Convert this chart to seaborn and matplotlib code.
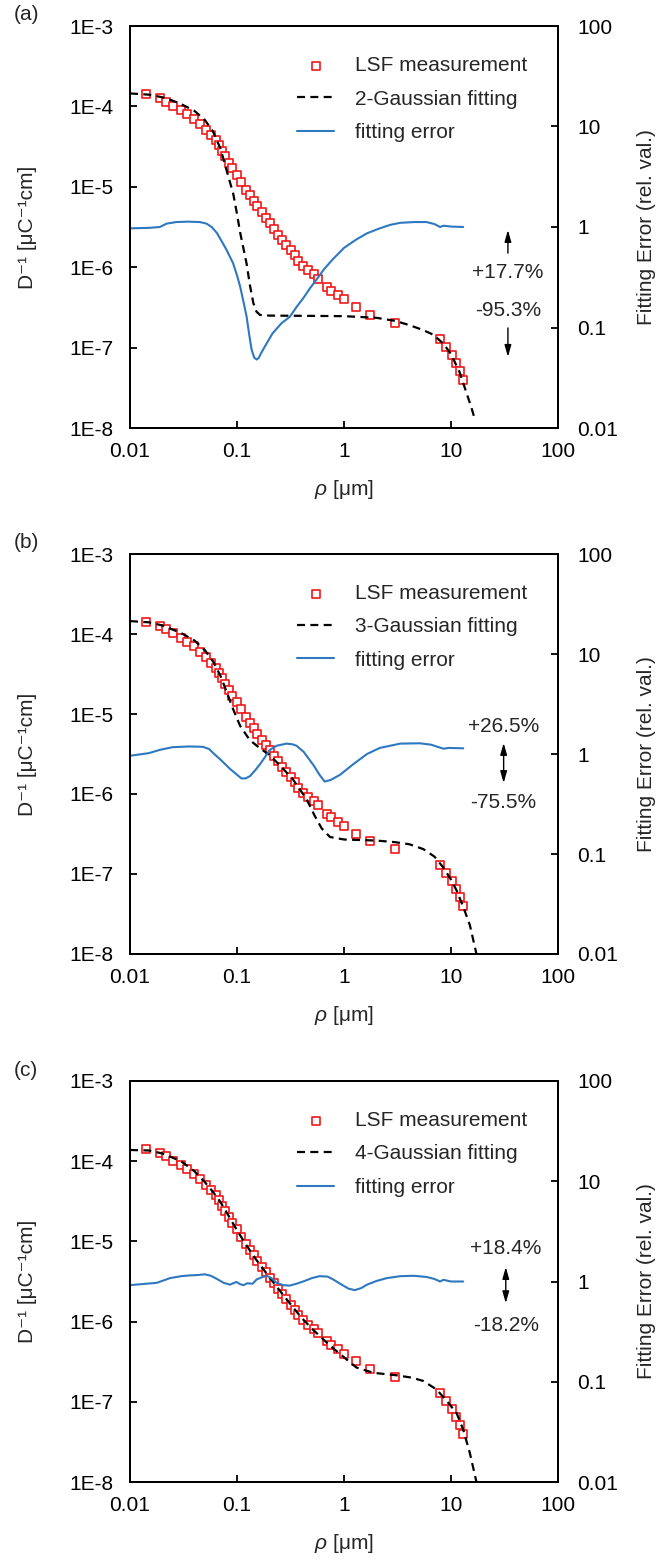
import matplotlib
matplotlib.use("Agg")
import matplotlib.pyplot as plt
import seaborn as sns

# ---- LSF measurement (same data set in every panel) ----
rho_meas = [0.0141, 0.0190, 0.0218, 0.0254, 0.0298, 0.0343, 0.0396, 0.0455, 0.0515,
            0.0575, 0.0630, 0.0680, 0.0730, 0.0780, 0.0835, 0.0895, 0.0990, 0.110,
            0.121, 0.132, 0.143, 0.155, 0.170, 0.187, 0.204, 0.222, 0.243, 0.266,
            0.290, 0.318, 0.345, 0.375, 0.415, 0.465, 0.520, 0.575, 0.700, 0.760,
            0.880, 1.00, 1.30, 1.75, 3.00, 7.9, 9.0, 10.2, 11.1, 12.1, 13.0]
dose_meas = [1.42e-4, 1.26e-4, 1.15e-4, 1.02e-4, 9.0e-5, 8.0e-5, 7.0e-5, 6.0e-5, 5.1e-5,
             4.4e-5, 3.8e-5, 3.3e-5, 2.8e-5, 2.4e-5, 2.0e-5, 1.7e-5, 1.42e-5, 1.14e-5,
             9.2e-6, 7.8e-6, 6.7e-6, 5.7e-6, 4.8e-6, 4.1e-6, 3.5e-6, 3.0e-6, 2.55e-6, 2.2e-6,
             1.9e-6, 1.62e-6, 1.40e-6, 1.20e-6, 1.04e-6, 9.2e-7, 8.2e-7, 7.2e-7, 5.7e-7, 5.1e-7,
             4.5e-7, 4.0e-7, 3.2e-7, 2.55e-7, 2.04e-7, 1.29e-7, 1.03e-7, 8.2e-8, 6.5e-8, 5.1e-8, 4.0e-8]

# ---- 2-Gaussian fit ----
fit2_rho = [0.010, 0.015, 0.020, 0.025, 0.030, 0.040, 0.050, 0.060, 0.070, 0.080, 0.092,
            0.100, 0.107, 0.115, 0.123, 0.132, 0.142, 0.152, 0.164, 0.200, 0.50, 1.0, 2.0,
            3.0, 4.1, 5.5, 6.8, 8.5, 10.0, 12.0, 14.0, 15.5, 16.8]
fit2_val = [1.45e-4, 1.40e-4, 1.30e-4, 1.18e-4, 1.07e-4, 8.8e-5, 6.8e-5, 4.8e-5, 3.0e-5, 1.6e-5, 8.3e-6,
            4.6e-6, 2.7e-6, 1.7e-6, 1.1e-6, 6.0e-7, 3.6e-7, 2.8e-7, 2.55e-7, 2.5e-7, 2.48e-7, 2.46e-7, 2.35e-7,
            2.15e-7, 1.9e-7, 1.65e-7, 1.45e-7, 1.12e-7, 8.3e-8, 5.0e-8, 2.7e-8, 1.8e-8, 1.25e-8]

# ---- 3-Gaussian fit ----
fit3_rho = [0.010, 0.015, 0.020, 0.030, 0.040, 0.050, 0.060, 0.070, 0.080, 0.092, 0.107,
            0.132, 0.170, 0.200, 0.250, 0.330, 0.445, 0.530, 0.620, 0.740, 1.0, 2.0,
            3.0, 4.1, 5.5, 7.0, 8.5, 10.0, 11.3, 13.0, 15.0, 17.3]
fit3_val = [1.45e-4, 1.40e-4, 1.28e-4, 1.03e-4, 8.3e-5, 6.3e-5, 4.5e-5, 3.0e-5, 1.9e-5, 1.15e-5, 7.1e-6,
            4.7e-6, 3.6e-6, 3.1e-6, 2.3e-6, 1.55e-6, 8.7e-7, 5.4e-7, 3.7e-7, 2.9e-7, 2.7e-7, 2.62e-7,
            2.5e-7, 2.35e-7, 2.05e-7, 1.65e-7, 1.2e-7, 8.5e-8, 6.2e-8, 3.9e-8, 2.3e-8, 1.0e-8]

# ---- 4-Gaussian fit ----
fit4_rho = [0.010, 0.015, 0.020, 0.030, 0.040, 0.050, 0.060, 0.070, 0.080, 0.090, 0.100,
            0.120, 0.150, 0.200, 0.250, 0.300, 0.400, 0.500, 0.640, 0.800, 1.05, 1.31,
            1.88, 3.1, 4.3, 5.5, 7.3, 9.0, 11.3, 13.0, 15.0, 17.3]
fit4_val = [1.38e-4, 1.36e-4, 1.25e-4, 1.0e-4, 7.5e-5, 5.5e-5, 4.1e-5, 3.1e-5, 2.3e-5, 1.75e-5, 1.38e-5,
            9.3e-6, 6.0e-6, 3.6e-6, 2.45e-6, 1.8e-6, 1.12e-6, 8.2e-7, 6.0e-7, 4.6e-7, 3.4e-7, 2.67e-7,
            2.3e-7, 2.14e-7, 2.0e-7, 1.82e-7, 1.43e-7, 1.05e-7, 7.2e-8, 4.5e-8, 2.3e-8, 1.0e-8]

# ---- fitting error (relative value) ----
err2_rho = [0.010, 0.015, 0.019, 0.022, 0.027, 0.035, 0.045, 0.052, 0.058, 0.065, 0.072, 0.080,
            0.092, 0.100, 0.107, 0.115, 0.123, 0.130, 0.137, 0.145, 0.153, 0.160, 0.167, 0.190,
            0.215, 0.260, 0.312, 0.360, 0.415, 0.480, 0.550, 0.650, 0.790, 1.00, 1.30, 1.64,
            2.16, 2.70, 3.35, 4.5, 5.9, 7.0, 7.9, 8.5, 10.0, 13.0]
err2_val = [0.97, 0.98, 1.00, 1.08, 1.12, 1.13, 1.12, 1.08, 1.00, 0.87, 0.72, 0.59,
            0.435, 0.33, 0.255, 0.18, 0.128, 0.085, 0.060, 0.050, 0.048, 0.050, 0.055, 0.070,
            0.0875, 0.11, 0.128, 0.16, 0.195, 0.245, 0.297, 0.38, 0.48, 0.62, 0.75, 0.865,
            0.97, 1.05, 1.10, 1.12, 1.12, 1.07, 1.00, 1.03, 1.01, 1.00]

err3_rho = [0.010, 0.015, 0.019, 0.025, 0.036, 0.048, 0.055, 0.060, 0.070, 0.086, 0.100, 0.110,
            0.120, 0.132, 0.150, 0.164, 0.185, 0.203, 0.235, 0.290, 0.330, 0.360, 0.420, 0.520,
            0.590, 0.660, 0.750, 0.920, 1.20, 1.64, 2.16, 3.35, 5.1, 6.5, 7.3, 8.5, 9.5, 13.0]
err3_val = [0.96, 1.02, 1.10, 1.17, 1.19, 1.18, 1.12, 1.02, 0.88, 0.71, 0.62, 0.57,
            0.57, 0.60, 0.70, 0.79, 0.95, 1.10, 1.21, 1.27, 1.25, 1.21, 1.05, 0.77,
            0.62, 0.53, 0.55, 0.62, 0.78, 1.00, 1.15, 1.27, 1.28, 1.24, 1.19, 1.13, 1.15, 1.14]

err4_rho = [0.010, 0.0178, 0.0236, 0.030, 0.036, 0.043, 0.050, 0.057, 0.065, 0.075, 0.086, 0.092,
            0.099, 0.107, 0.115, 0.125, 0.140, 0.153, 0.170, 0.190, 0.210, 0.235, 0.270, 0.310,
            0.360, 0.415, 0.500, 0.590, 0.700, 0.790, 0.950, 1.10, 1.26, 1.45, 1.64, 2.00,
            2.50, 3.35, 4.5, 5.9, 7.0, 7.9, 8.5, 10.0, 13.0]
err4_val = [0.92, 0.97, 1.08, 1.13, 1.15, 1.16, 1.18, 1.14, 1.06, 0.97, 0.93, 0.96,
            0.99, 0.94, 0.92, 0.96, 0.95, 1.05, 1.10, 1.14, 1.08, 0.97, 0.92, 0.91,
            0.95, 1.00, 1.08, 1.13, 1.12, 1.05, 0.93, 0.85, 0.82, 0.86, 0.93, 1.01,
            1.08, 1.13, 1.14, 1.11, 1.06, 1.00, 1.04, 1.00, 1.00]

panel_tags = ["(a)", "(b)", "(c)"]
fit_labels = ["2-Gaussian fitting", "3-Gaussian fitting", "4-Gaussian fitting"]
err_plus = ["+17.7%", "+26.5%", "+18.4%"]
err_minus = ["-95.3%", "-75.5%", "-18.2%"]

x_ticks = [0.01, 0.1, 1, 10, 100]
x_tick_labels = ["0.01", "0.1", "1", "10", "100"]
y_ticks = [1e-8, 1e-7, 1e-6, 1e-5, 1e-4, 1e-3]
y_tick_labels = ["1E-8", "1E-7", "1E-6", "1E-5", "1E-4", "1E-3"]
err_ticks = [0.01, 0.1, 1, 10, 100]
err_tick_labels = ["0.01", "0.1", "1", "10", "100"]

fits = [(fit2_rho, fit2_val), (fit3_rho, fit3_val), (fit4_rho, fit4_val)]
errs = [(err2_rho, err2_val), (err3_rho, err3_val), (err4_rho, err4_val)]

# ---- styling ----
sns.set_style("ticks")
plt.rcParams["font.family"] = ["Liberation Sans", "DejaVu Sans"]
plt.rcParams["mathtext.fontset"] = "custom"
plt.rcParams["mathtext.rm"] = "Liberation Sans"
plt.rcParams["mathtext.it"] = "Liberation Sans:italic"
FS = 15
RED = "#f01818"
BLUE = "#2e78c0"

W, H = 670, 1564
fig = plt.figure(figsize=(W / 100, H / 100), dpi=100)
fig.patch.set_facecolor("white")

# axes frames in pixels: (top, bottom)
frames = [(26, 428), (554, 954), (1081, 1482)]
left_px, right_px = 130, 558

# text/arrow layout per panel (axes fractions)
ann = [
    dict(x=0.883, plus_y=0.386, minus_y=0.2935, arrows=[(0.435, 0.4925), (0.249, 0.177)]),
    dict(x=0.873, plus_y=0.5675, minus_y=0.3775, arrows=[(0.4275, 0.5275)]),
    dict(x=0.878, plus_y=0.5835, minus_y=0.3915, arrows=[(0.446, 0.536)]),
]

for i in range(3):
    top, bot = frames[i]
    ax = fig.add_axes([left_px / W, 1 - bot / H, (right_px - left_px) / W, (bot - top) / H])
    ax2 = ax.twinx()

    ax.set_xscale("log")
    ax.set_yscale("log")
    ax2.set_yscale("log")

    # measurement squares
    sns.scatterplot(x=rho_meas, y=dose_meas, ax=ax, marker="s", s=34, color="white",
                    edgecolor=RED, linewidth=1.2, legend=False, zorder=3)
    meas_art = ax.collections[-1]

    # Gaussian fit
    fr, fv = fits[i]
    sns.lineplot(x=fr, y=fv, ax=ax, color="black", lw=1.6, sort=False, estimator=None,
                 legend=False, zorder=4)
    fit_line = ax.lines[-1]
    fit_line.set_dashes((3.6, 2.4))

    # fitting error on the right axis
    er, ev = errs[i]
    sns.lineplot(x=er, y=ev, ax=ax2, color=BLUE, lw=1.5, sort=False, estimator=None,
                 legend=False)
    err_line = ax2.lines[-1]

    ax.set_xlim(0.01, 100)
    ax.set_ylim(1e-8, 1e-3)
    ax2.set_ylim(0.01, 100)

    ax.set_xticks(x_ticks, x_tick_labels)
    ax.set_yticks(y_ticks, y_tick_labels)
    ax2.set_yticks(err_ticks, err_tick_labels)
    ax.minorticks_off()
    ax2.minorticks_off()

    for a in (ax, ax2):
        for sp in a.spines.values():
            sp.set_linewidth(1.4)
            sp.set_color("black")
            sp.set_visible(True)
    ax.tick_params(axis="both", which="major", direction="in", length=5, width=1.3,
                   labelsize=FS, colors="black")
    ax.tick_params(axis="x", pad=10)
    ax.tick_params(axis="y", pad=12, right=False)
    ax2.tick_params(axis="y", which="major", direction="in", length=5, width=1.3,
                    labelsize=FS, pad=14, colors="black")

    ax.set_xlabel(r"$ρ$ [μm]", fontsize=FS)
    ax.xaxis.set_label_coords(0.5, -0.125)
    ax.set_ylabel("D⁻¹ [μC⁻¹cm]", fontsize=FS)
    ax.yaxis.set_label_coords(-0.218, 0.5)
    ax2.set_ylabel("Fitting Error (rel. val.)", fontsize=FS)
    ax2.yaxis.set_label_coords(1.185, 0.5)

    ax2.legend([meas_art, fit_line, err_line], ["LSF measurement", fit_labels[i], "fitting error"],
               loc="upper left", bbox_to_anchor=(0.39, 0.925), frameon=False, borderpad=0,
               borderaxespad=0, handlelength=1.8, handletextpad=1.0, labelspacing=0.69,
               scatterpoints=1, fontsize=FS)

    cfg = ann[i]
    ax2.text(cfg["x"], cfg["plus_y"], err_plus[i], transform=ax2.transAxes,
             ha="center", va="center", fontsize=FS)
    ax2.text(cfg["x"], cfg["minus_y"], err_minus[i], transform=ax2.transAxes,
             ha="center", va="center", fontsize=FS)
    if len(cfg["arrows"]) == 2:
        style = "-|>,head_width=0.2,head_length=0.7"
    else:
        style = "<|-|>,head_width=0.2,head_length=0.7"
    for y0, y1 in cfg["arrows"]:
        ax2.annotate("", xy=(cfg["x"], y1), xytext=(cfg["x"], y0),
                     xycoords="axes fraction", textcoords="axes fraction",
                     arrowprops=dict(arrowstyle=style, lw=1.0, color="black",
                                     shrinkA=0, shrinkB=0, mutation_scale=10))

    fig.text(14 / W, 1 - (top - 11) / H, panel_tags[i], fontsize=FS, ha="left", va="center")

fig.savefig("out.png", dpi=100, facecolor="white")
